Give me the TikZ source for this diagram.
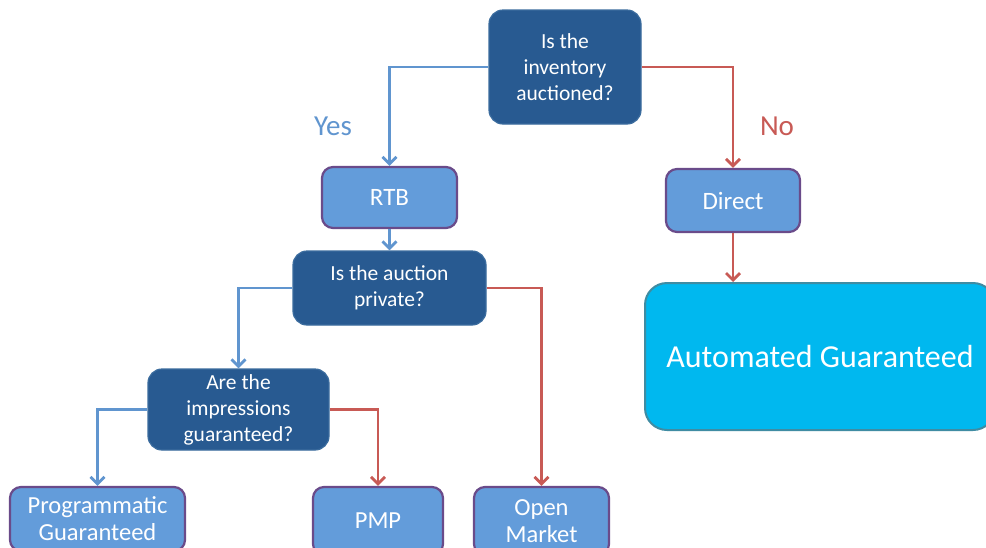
\documentclass[tikz,border=0pt]{standalone}
\usepackage{fontspec}
\setmainfont{Carlito}
\usetikzlibrary{arrows.meta}
\definecolor{qblue}{HTML}{285A91}
\definecolor{qedge}{HTML}{3B6C9E}
\definecolor{lblue}{HTML}{639CDA}
\definecolor{ledge}{HTML}{6A4B8A}
\definecolor{yesline}{HTML}{6095CF}
\definecolor{noline}{HTML}{C85A55}
\definecolor{agfill}{HTML}{00B8EF}
\definecolor{agedge}{HTML}{3F8CA3}
\tikzset{
  question/.style={draw=qedge, line width=1.2pt, fill=qblue, rounded corners=14pt,
    text=white, align=center, inner sep=0pt, font=\fontsize{21.5}{26}\selectfont},
  answer/.style={draw=ledge, line width=2.2pt, fill=lblue, rounded corners=11pt,
    text=white, align=center, inner sep=0pt, font=\fontsize{24.5}{27}\selectfont},
  yesarrow/.style={draw=yesline, line width=2.8pt,
    -{Straight Barb[length=7pt,width=14pt,line width=2.8pt]}},
  noarrow/.style={draw=noline, line width=2.8pt,
    -{Straight Barb[length=7pt,width=14pt,line width=2.8pt]}},
}
\begin{document}
\begin{tikzpicture}[x=1pt, y=-1pt]
  \useasboundingbox (0,0) rectangle (986,547);
  \clip (0,0) rectangle (986,547);
  \fill[white] (0,0) rectangle (986,547);

  % decision boxes
  \node[question, minimum width=152pt, minimum height=114pt] (q1) at (565,67)
    {Is the\\inventory\\auctioned?};
  \node[question, minimum width=193pt, minimum height=74pt] (q2) at (389.5,288)
    {Is the auction\\private?};
  \node[question, minimum width=181pt, minimum height=81pt] (q3) at (238.5,409.5)
    {Are the\\impressions\\guaranteed?};

  % outcome boxes
  \node[answer, font=\fontsize{25}{27}\selectfont, minimum width=135pt, minimum height=61pt]
    (rtb) at (389.5,197.5) {RTB};
  \node[answer, font=\fontsize{25}{27}\selectfont, minimum width=134pt, minimum height=63pt]
    (direct) at (733,200.5) {Direct};
  \node[answer, minimum width=175pt, minimum height=64pt] (pg) at (97.5,519)
    {Programmatic\\Guaranteed};
  \node[answer, minimum width=130pt, minimum height=68pt] (pmp) at (378,521) {PMP};
  \node[answer, minimum width=135pt, minimum height=68pt] (om) at (541.5,521)
    {Open\\Market};
  \node[draw=agedge, line width=2pt, fill=agfill, rounded corners=22pt, text=white,
    inner sep=0pt, minimum width=350pt, minimum height=147pt,
    font=\fontsize{32}{36}\selectfont] (ag) at (820,356.5) {Automated Guaranteed};

  % branch labels
  \node[text=yesline, font=\fontsize{29}{32}\selectfont] (yes) at (333,126) {Yes};
  \node[text=noline, font=\fontsize{29}{32}\selectfont] (no) at (777,126) {No};

  % connectors
  \draw[yesarrow] (q1.west) -| (rtb.north);
  \draw[noarrow] (q1.east) -| (direct.north);
  \draw[yesarrow] (rtb.south) -- (q2.north);
  \draw[yesarrow] (q2.west) -| (q3.north);
  \draw[noarrow] (q2.east) -| (om.north);
  \draw[yesarrow] (q3.west) -| (pg.north);
  \draw[noarrow] (q3.east) -| (pmp.north);
  \draw[noarrow] (direct.south) -- (ag.north -| direct.south);
\end{tikzpicture}
\end{document}
